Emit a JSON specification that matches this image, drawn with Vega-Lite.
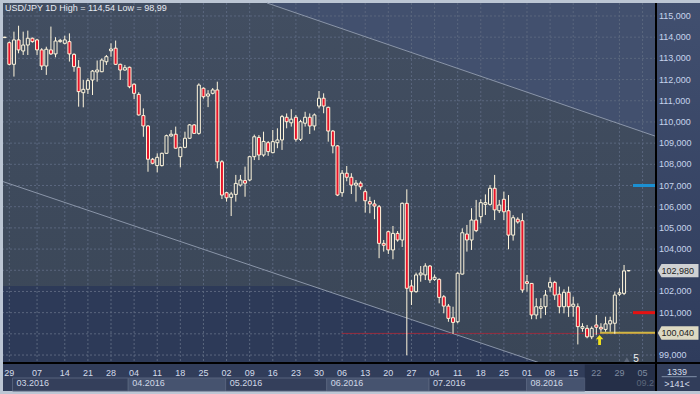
{
  "$schema": "https://vega.github.io/schema/vega-lite/v6.json",
  "width": 653,
  "height": 360,
  "autosize": {"type": "none"},
  "padding": {"left": 3, "top": 3, "right": 44, "bottom": 31},
  "background": "#bcc6d4",
  "config": {"view": {"stroke": null}, "font": "Liberation Sans", "axis": {"disable": true}},
  "datasets": {
    "candles": [
      {"k":0,"o":113.98,"h":114.02,"l":113.96,"c":114.0},
      {"k":1,"o":113.74,"h":113.8,"l":112.67,"c":112.72},
      {"k":2,"o":112.72,"h":114.26,"l":112.14,"c":113.87},
      {"k":3,"o":113.87,"h":114.54,"l":113.24,"c":113.4},
      {"k":4,"o":113.35,"h":114.26,"l":113.16,"c":113.63},
      {"k":5,"o":113.63,"h":114.31,"l":113.16,"c":113.95},
      {"k":6,"o":113.95,"h":113.98,"l":113.74,"c":113.79},
      {"k":7,"o":113.87,"h":113.92,"l":113.16,"c":113.4},
      {"k":8,"o":113.4,"h":113.48,"l":112.45,"c":112.64},
      {"k":9,"o":112.64,"h":113.55,"l":112.22,"c":113.43},
      {"k":10,"o":113.4,"h":114.5,"l":113.16,"c":113.21},
      {"k":11,"o":113.21,"h":114.0,"l":113.05,"c":113.82},
      {"k":12,"o":113.79,"h":113.92,"l":113.74,"c":113.85},
      {"k":13,"o":113.71,"h":114.07,"l":113.66,"c":113.87},
      {"k":14,"o":113.79,"h":114.18,"l":112.85,"c":113.21},
      {"k":15,"o":113.19,"h":113.24,"l":112.37,"c":112.61},
      {"k":16,"o":112.58,"h":112.92,"l":110.72,"c":111.43},
      {"k":17,"o":111.38,"h":111.98,"l":110.69,"c":111.54},
      {"k":18,"o":111.54,"h":112.06,"l":111.32,"c":111.95},
      {"k":19,"o":111.98,"h":112.45,"l":111.27,"c":112.4},
      {"k":20,"o":112.36,"h":112.9,"l":111.9,"c":112.45},
      {"k":21,"o":112.37,"h":113.0,"l":112.35,"c":112.92},
      {"k":22,"o":112.84,"h":113.16,"l":112.69,"c":113.08},
      {"k":23,"o":113.36,"h":113.71,"l":113.08,"c":113.44},
      {"k":24,"o":113.48,"h":113.84,"l":112.69,"c":112.72},
      {"k":25,"o":112.72,"h":112.75,"l":111.98,"c":112.45},
      {"k":26,"o":112.45,"h":112.69,"l":112.42,"c":112.56},
      {"k":27,"o":112.58,"h":112.61,"l":111.59,"c":111.66},
      {"k":28,"o":111.78,"h":111.82,"l":111.08,"c":111.35},
      {"k":29,"o":111.3,"h":111.4,"l":110.3,"c":110.33},
      {"k":30,"o":110.3,"h":110.64,"l":109.3,"c":109.81},
      {"k":31,"o":109.81,"h":109.85,"l":107.65,"c":108.24},
      {"k":32,"o":108.24,"h":108.3,"l":108.0,"c":108.05},
      {"k":33,"o":107.94,"h":108.52,"l":107.62,"c":108.33},
      {"k":34,"o":107.94,"h":108.55,"l":107.9,"c":108.52},
      {"k":35,"o":108.52,"h":109.4,"l":108.5,"c":109.35},
      {"k":36,"o":109.34,"h":109.62,"l":109.3,"c":109.42},
      {"k":37,"o":109.42,"h":109.78,"l":108.74,"c":108.76},
      {"k":38,"o":108.36,"h":108.83,"l":107.86,"c":108.8},
      {"k":39,"o":108.8,"h":109.54,"l":108.76,"c":109.23},
      {"k":40,"o":109.23,"h":109.9,"l":109.2,"c":109.86},
      {"k":41,"o":109.86,"h":109.9,"l":109.45,"c":109.46},
      {"k":42,"o":109.46,"h":111.82,"l":109.4,"c":111.74},
      {"k":43,"o":111.59,"h":111.63,"l":111.1,"c":111.19},
      {"k":44,"o":111.22,"h":111.5,"l":110.7,"c":111.32},
      {"k":45,"o":111.35,"h":111.6,"l":111.3,"c":111.51},
      {"k":46,"o":111.51,"h":111.9,"l":107.81,"c":108.12},
      {"k":47,"o":108.12,"h":108.2,"l":106.36,"c":106.55},
      {"k":48,"o":106.66,"h":106.7,"l":106.24,"c":106.42},
      {"k":49,"o":106.44,"h":106.7,"l":105.56,"c":106.6},
      {"k":50,"o":106.58,"h":107.5,"l":106.24,"c":107.1},
      {"k":51,"o":107.02,"h":107.5,"l":106.95,"c":107.26},
      {"k":52,"o":107.23,"h":107.89,"l":106.47,"c":107.11},
      {"k":53,"o":107.26,"h":108.4,"l":107.2,"c":108.36},
      {"k":54,"o":108.36,"h":109.4,"l":108.2,"c":109.3},
      {"k":55,"o":109.27,"h":109.38,"l":108.2,"c":108.44},
      {"k":56,"o":108.44,"h":109.54,"l":108.36,"c":109.08},
      {"k":57,"o":109.02,"h":109.1,"l":108.4,"c":108.6},
      {"k":58,"o":108.55,"h":109.62,"l":108.52,"c":109.07},
      {"k":59,"o":109.02,"h":109.7,"l":108.76,"c":109.15},
      {"k":60,"o":109.15,"h":110.33,"l":108.68,"c":110.25},
      {"k":61,"o":110.22,"h":110.4,"l":109.7,"c":110.01},
      {"k":62,"o":109.96,"h":110.6,"l":109.78,"c":110.13},
      {"k":63,"o":110.22,"h":110.33,"l":109.07,"c":109.18},
      {"k":64,"o":109.18,"h":110.1,"l":109.1,"c":110.01},
      {"k":65,"o":109.94,"h":110.48,"l":109.78,"c":110.22},
      {"k":66,"o":110.22,"h":110.4,"l":109.43,"c":109.81},
      {"k":67,"o":109.81,"h":110.4,"l":109.6,"c":110.33},
      {"k":68,"o":110.75,"h":111.46,"l":110.64,"c":111.12},
      {"k":69,"o":111.12,"h":111.35,"l":110.41,"c":110.75},
      {"k":70,"o":110.69,"h":110.72,"l":109.07,"c":109.57},
      {"k":71,"o":109.57,"h":109.62,"l":108.52,"c":108.87},
      {"k":72,"o":108.87,"h":108.9,"l":106.5,"c":106.55},
      {"k":73,"o":106.66,"h":107.73,"l":106.47,"c":107.58},
      {"k":74,"o":107.58,"h":107.92,"l":107.2,"c":107.39},
      {"k":75,"o":107.39,"h":107.58,"l":106.6,"c":107.02},
      {"k":76,"o":107.02,"h":107.26,"l":106.24,"c":107.11},
      {"k":77,"o":107.11,"h":107.2,"l":106.8,"c":106.94},
      {"k":78,"o":106.71,"h":106.82,"l":105.72,"c":106.28},
      {"k":79,"o":106.24,"h":106.47,"l":105.69,"c":106.13},
      {"k":80,"o":106.13,"h":106.32,"l":105.41,"c":106.03},
      {"k":81,"o":106.0,"h":106.08,"l":103.57,"c":104.27},
      {"k":82,"o":104.27,"h":104.43,"l":103.88,"c":104.18},
      {"k":83,"o":104.82,"h":104.87,"l":103.77,"c":103.96},
      {"k":84,"o":103.96,"h":105.09,"l":103.52,"c":104.74},
      {"k":85,"o":104.74,"h":104.85,"l":104.35,"c":104.43},
      {"k":86,"o":104.43,"h":106.2,"l":104.1,"c":106.16},
      {"k":87,"o":106.16,"h":106.82,"l":98.99,"c":102.15},
      {"k":88,"o":102.26,"h":102.54,"l":101.36,"c":101.99},
      {"k":89,"o":101.99,"h":102.89,"l":101.94,"c":102.78},
      {"k":90,"o":102.78,"h":103.2,"l":102.46,"c":102.87},
      {"k":91,"o":102.78,"h":103.33,"l":102.54,"c":103.2},
      {"k":92,"o":103.2,"h":103.25,"l":102.4,"c":102.54},
      {"k":93,"o":102.57,"h":102.8,"l":102.5,"c":102.67},
      {"k":94,"o":102.57,"h":102.62,"l":101.44,"c":101.72},
      {"k":95,"o":101.75,"h":101.83,"l":100.97,"c":101.31},
      {"k":96,"o":101.31,"h":101.41,"l":100.57,"c":100.73},
      {"k":97,"o":100.76,"h":101.28,"l":99.99,"c":100.54},
      {"k":98,"o":100.57,"h":102.9,"l":100.5,"c":102.86},
      {"k":99,"o":102.82,"h":104.98,"l":102.8,"c":104.77},
      {"k":100,"o":104.71,"h":105.14,"l":103.88,"c":104.43},
      {"k":101,"o":104.43,"h":105.93,"l":103.96,"c":105.37},
      {"k":102,"o":105.37,"h":106.32,"l":104.8,"c":104.87},
      {"k":103,"o":105.53,"h":106.35,"l":105.22,"c":106.19},
      {"k":104,"o":106.11,"h":106.58,"l":105.61,"c":106.19},
      {"k":105,"o":106.11,"h":107.02,"l":106.05,"c":106.87},
      {"k":106,"o":106.87,"h":107.5,"l":105.37,"c":105.85},
      {"k":107,"o":105.81,"h":106.32,"l":105.7,"c":106.08},
      {"k":108,"o":106.35,"h":106.71,"l":105.37,"c":105.76},
      {"k":109,"o":105.81,"h":106.55,"l":103.99,"c":104.66},
      {"k":110,"o":104.66,"h":105.6,"l":104.4,"c":105.48},
      {"k":111,"o":105.41,"h":105.5,"l":105.2,"c":105.28},
      {"k":112,"o":105.34,"h":105.69,"l":101.94,"c":102.07},
      {"k":113,"o":102.46,"h":102.78,"l":101.99,"c":102.38},
      {"k":114,"o":102.38,"h":102.4,"l":100.69,"c":100.89},
      {"k":115,"o":100.89,"h":101.68,"l":100.69,"c":101.28},
      {"k":116,"o":101.2,"h":101.68,"l":100.73,"c":101.28},
      {"k":117,"o":101.28,"h":102.07,"l":100.89,"c":101.83},
      {"k":118,"o":102.2,"h":102.67,"l":101.99,"c":102.43},
      {"k":119,"o":102.43,"h":102.5,"l":101.6,"c":101.83},
      {"k":120,"o":101.87,"h":102.23,"l":100.97,"c":101.28},
      {"k":121,"o":101.28,"h":102.1,"l":100.97,"c":101.96},
      {"k":122,"o":101.96,"h":102.23,"l":100.8,"c":101.28},
      {"k":123,"o":101.3,"h":101.75,"l":100.81,"c":101.4},
      {"k":124,"o":101.28,"h":101.44,"l":99.5,"c":100.34},
      {"k":125,"o":100.26,"h":100.5,"l":100.1,"c":100.34},
      {"k":126,"o":100.26,"h":100.42,"l":99.79,"c":99.86},
      {"k":127,"o":99.86,"h":100.35,"l":99.75,"c":100.26},
      {"k":128,"o":100.42,"h":100.89,"l":99.95,"c":100.31},
      {"k":129,"o":100.31,"h":100.5,"l":100.1,"c":100.23},
      {"k":130,"o":100.21,"h":100.81,"l":100.1,"c":100.47},
      {"k":131,"o":100.47,"h":100.81,"l":100.1,"c":100.62},
      {"k":132,"o":100.5,"h":101.99,"l":100.0,"c":101.83},
      {"k":133,"o":101.87,"h":102.15,"l":101.79,"c":101.94},
      {"k":134,"o":101.91,"h":103.25,"l":101.83,"c":102.97},
      {"k":135,"o":102.98,"h":103.0,"l":102.95,"c":102.98}
    ],
    "weeks": [{"k":1,"d":"29"},{"k":7,"d":"07"},{"k":13,"d":"14"},{"k":18,"d":"21"},{"k":23,"d":"28"},{"k":28,"d":"04"},{"k":33,"d":"11"},{"k":38,"d":"18"},{"k":43,"d":"25"},{"k":48,"d":"02"},{"k":53,"d":"09"},{"k":58,"d":"16"},{"k":63,"d":"23"},{"k":68,"d":"30"},{"k":73,"d":"06"},{"k":78,"d":"13"},{"k":83,"d":"20"},{"k":88,"d":"27"},{"k":93,"d":"04"},{"k":98,"d":"11"},{"k":103,"d":"18"},{"k":108,"d":"25"},{"k":113,"d":"01"},{"k":118,"d":"08"},{"k":123,"d":"15"},{"k":128,"d":"22"},{"k":133,"d":"29"},{"k":138,"d":"05"}],
    "levels": [{"p":99},{"p":100},{"p":101},{"p":102},{"p":103},{"p":104},{"p":105},{"p":106},{"p":107},{"p":108},{"p":109},{"p":110},{"p":111},{"p":112},{"p":113},{"p":114},{"p":115}],
    "pricelabels": [{"p":99,"t":"99,000"},{"p":101,"t":"101,000"},{"p":102,"t":"102,000"},{"p":104,"t":"104,000"},{"p":105,"t":"105,000"},{"p":106,"t":"106,000"},{"p":107,"t":"107,000"},{"p":108,"t":"108,000"},{"p":109,"t":"109,000"},{"p":110,"t":"110,000"},{"p":111,"t":"111,000"},{"p":112,"t":"112,000"},{"p":113,"t":"113,000"},{"p":114,"t":"114,000"},{"p":115,"t":"115,000"}],
    "channel": [{"k":-0.368,"top":115.613,"bot":102.258},{"k":56.75,"top":115.613,"bot":102.258},{"k":66.45,"top":114.888,"bot":102.258},{"k":115.82,"top":111.194,"bot":98.624},{"k":140.91,"top":109.318,"bot":98.624}],
    "above": [{"k":56.75,"top":115.613,"bot":115.613},{"k":140.91,"top":115.613,"bot":109.318}],
    "lower": [{"k":-0.368,"top":102.258},{"k":66.45,"top":102.258},{"k":115.82,"top":98.624}],
    "lines": [{"k1":56.75,"p1":115.613,"k2":140.91,"p2":109.318},{"k1":-0.368,"p1":107.185,"k2":115.82,"p2":98.624}],
    "months": [{"m":"03.2016","n":3,"k1":1.7,"k2":26.73},{"m":"04.2016","n":4,"k1":26.73,"k2":47.8},{"m":"05.2016","n":5,"k1":47.8,"k2":69.67},{"m":"06.2016","n":6,"k1":69.67,"k2":91.8},{"m":"07.2016","n":7,"k1":91.8,"k2":112.9},{"m":"08.2016","n":8,"k1":112.9,"k2":125.5}],
    "nextmonth": [{"m":"09.2016","n":9,"k1":135.8,"k2":140.91}]
  },
  "layer": [
    {"data": {"values": [{}]}, "mark": {"type": "rect", "color": "#313d5a"},
     "encoding": {"x": {"datum": -0.368, "type": "quantitative", "scale": {"domain": [-0.368, 140.91], "nice": false, "zero": false, "padding": 0}}, "x2": {"datum": 152},
                  "y": {"datum": 115.613, "type": "quantitative", "scale": {"domain": [98.624, 115.613], "nice": false, "zero": false, "padding": 0}}, "y2": {"datum": 97.303}}},
    {"data": {"values": [{}]}, "mark": {"type": "rect", "color": {"gradient": "linear", "x1": 0, "y1": 0, "x2": 0, "y2": 1, "stops": [{"offset": 0, "color": "#414f6f"}, {"offset": 1, "color": "#2f3c5c"}]}},
     "encoding": {"x": {"datum": 140.91, "type": "quantitative"}, "x2": {"datum": 152}, "y": {"datum": 115.613, "type": "quantitative"}, "y2": {"datum": 98.624}}},
    {"data": {"name": "channel"}, "mark": {"type": "area", "color": {"gradient": "linear", "x1": 0, "y1": 0, "x2": 0, "y2": 1, "stops": [{"offset": 0, "color": "#424e61"}, {"offset": 1, "color": "#3a4657"}]}},
     "encoding": {"x": {"field": "k", "type": "quantitative"}, "y": {"field": "top", "type": "quantitative"}, "y2": {"field": "bot"}}},
    {"data": {"name": "above"}, "mark": {"type": "area", "color": "#42506e"},
     "encoding": {"x": {"field": "k", "type": "quantitative"}, "y": {"field": "top", "type": "quantitative"}, "y2": {"field": "bot"}}},
    {"data": {"name": "lower"}, "mark": {"type": "area", "color": "#2d3a58"},
     "encoding": {"x": {"field": "k", "type": "quantitative"}, "y": {"field": "top", "type": "quantitative"}, "y2": {"datum": 98.624}}},
    {"data": {"name": "levels"}, "mark": {"type": "rule", "color": "#5a667e", "strokeDash": [2, 2], "strokeWidth": 1},
     "encoding": {"y": {"field": "p", "type": "quantitative"}}},
    {"data": {"name": "weeks"}, "mark": {"type": "rule", "color": "#5a667e", "strokeDash": [2, 2], "strokeWidth": 1},
     "encoding": {"x": {"field": "k", "type": "quantitative"}}},
    {"data": {"name": "lines"}, "mark": {"type": "rule", "color": "#8a95a8", "strokeWidth": 1},
     "encoding": {"x": {"field": "k1", "type": "quantitative"}, "y": {"field": "p1", "type": "quantitative"}, "x2": {"field": "k2"}, "y2": {"field": "p2"}}},
    {"data": {"values": [{}]}, "mark": {"type": "rule", "color": "#962c3e", "strokeWidth": 1},
     "encoding": {"x": {"datum": 72.9, "type": "quantitative"}, "x2": {"datum": 140.91}, "y": {"datum": 100.02, "type": "quantitative"}}},
    {"data": {"values": [{}]}, "mark": {"type": "rule", "color": "#cdb845", "strokeWidth": 2},
     "encoding": {"x": {"datum": 128.8, "type": "quantitative"}, "x2": {"datum": 140.91}, "y": {"datum": 100.05, "type": "quantitative"}}},
    {"data": {"values": [{}]}, "mark": {"type": "rule", "color": "#1b8fd2", "strokeWidth": 3},
     "encoding": {"x": {"datum": 135.93, "type": "quantitative"}, "x2": {"datum": 140.91}, "y": {"datum": 107.0, "type": "quantitative"}}},
    {"data": {"values": [{}]}, "mark": {"type": "rule", "color": "#e51212", "strokeWidth": 3},
     "encoding": {"x": {"datum": 135.93, "type": "quantitative"}, "x2": {"datum": 140.91}, "y": {"datum": 101.0, "type": "quantitative"}}},
    {"data": {"name": "candles"}, "mark": {"type": "rule", "color": "#fff6dc", "strokeWidth": 1},
     "encoding": {"x": {"field": "k", "type": "quantitative"}, "y": {"field": "h", "type": "quantitative"}, "y2": {"field": "l"}}},
    {"data": {"name": "candles"}, "mark": {"type": "bar", "width": 3, "stroke": "#fff6dc", "strokeWidth": 1},
     "encoding": {
       "x": {"field": "k", "type": "quantitative"},
       "y": {"field": "o", "type": "quantitative"},
       "y2": {"field": "c"},
       "fill": {"condition": {"test": "datum.c < datum.o", "value": "#e8142a"}, "value": "#3d4a5c"}
     }},
    {"data": {"values": [{}]}, "mark": {"type": "point", "shape": "M0,-1L0.75,-0.15L0.28,-0.15L0.28,1L-0.28,1L-0.28,-0.15L-0.75,-0.15Z", "size": 100, "filled": true, "color": "#f2e21c", "opacity": 1},
     "encoding": {"x": {"datum": 128.7, "type": "quantitative"}, "y": {"datum": 99.71, "type": "quantitative"}}},
    {"data": {"values": [{}]}, "mark": {"type": "point", "shape": "triangle-up", "size": 40, "filled": true, "color": "#5c6679", "opacity": 1},
     "encoding": {"x": {"datum": 134.6, "type": "quantitative"}, "y": {"datum": 98.77, "type": "quantitative"}}},
    {"data": {"values": [{"t": "5"}]}, "mark": {"type": "text", "fontSize": 10, "color": "#f0f0f0", "align": "center", "baseline": "middle"},
     "encoding": {"x": {"datum": 136.6, "type": "quantitative"}, "y": {"datum": 98.79, "type": "quantitative"}, "text": {"field": "t"}}},
    {"data": {"name": "months"}, "mark": {"type": "rect", "stroke": "#56627c", "strokeWidth": 1},
     "encoding": {"x": {"field": "k1", "type": "quantitative"}, "x2": {"field": "k2"}, "y": {"datum": 97.916, "type": "quantitative"}, "y2": {"datum": 97.303},
                  "fill": {"condition": {"test": "datum.n % 2 == 0", "value": "#46536f"}, "value": "#343f5b"}}},
    {"data": {"name": "months"}, "mark": {"type": "text", "fontSize": 9, "align": "left", "baseline": "middle", "dx": 4, "color": "#d0d8e6"},
     "encoding": {"x": {"field": "k1", "type": "quantitative"}, "y": {"datum": 97.66, "type": "quantitative"}, "text": {"field": "m"}}},
    {"data": {"name": "nextmonth"}, "mark": {"type": "text", "fontSize": 9, "align": "left", "baseline": "middle", "dx": 4, "color": "#7f8ba0", "limit": 19, "ellipsis": "\u200b"},
     "encoding": {"x": {"field": "k1", "type": "quantitative"}, "y": {"datum": 97.66, "type": "quantitative"}, "text": {"field": "m"}}},
    {"data": {"values": [{}]}, "mark": {"type": "rect", "color": "#0a1222", "opacity": 0.3},
     "encoding": {"x": {"datum": 125.5, "type": "quantitative"}, "x2": {"datum": 140.91}, "y": {"datum": 98.55, "type": "quantitative"}, "y2": {"datum": 97.303}}},
    {"data": {"values": [{}]}, "mark": {"type": "rule", "color": "#000000", "strokeWidth": 2},
     "encoding": {"x": {"datum": -0.368, "type": "quantitative"}, "x2": {"datum": 152}, "y": {"datum": 98.624, "type": "quantitative"}}},
    {"data": {"values": [{}]}, "mark": {"type": "rule", "color": "#000000", "strokeWidth": 2},
     "encoding": {"x": {"datum": 140.91, "type": "quantitative"}, "y": {"datum": 115.613, "type": "quantitative"}, "y2": {"datum": 97.303}}},
    {"data": {"name": "weeks"}, "mark": {"type": "text", "fontSize": 9, "align": "center", "baseline": "middle"},
     "encoding": {"x": {"field": "k", "type": "quantitative"}, "y": {"datum": 98.167, "type": "quantitative"}, "text": {"field": "d"},
                  "color": {"condition": {"test": "datum.k >= 128", "value": "#7f8ba0"}, "value": "#d4dcea"}}},
    {"data": {"name": "pricelabels"}, "mark": {"type": "text", "fontSize": 9, "align": "left", "baseline": "middle", "color": "#c6d4ec"},
     "encoding": {"x": {"datum": 141.56, "type": "quantitative"}, "y": {"field": "p", "type": "quantitative"}, "text": {"field": "t"}}},
    {"data": {"values": [{}]}, "mark": {"type": "rule", "color": "#8090a8", "strokeWidth": 1},
     "encoding": {"x": {"datum": 142.14, "type": "quantitative"}, "x2": {"datum": 149.72}, "y": {"datum": 97.978, "type": "quantitative"}}},
    {"data": {"values": [{"t": "1339", "p": 98.222}, {"t": ">141<", "p": 97.646}]}, "mark": {"type": "text", "fontSize": 9, "color": "#d4dcea", "align": "center", "baseline": "middle"},
     "encoding": {"x": {"datum": 145.45, "type": "quantitative"}, "y": {"field": "p", "type": "quantitative"}, "text": {"field": "t"}}},
    {"data": {"values": [{"p": 102.98}]}, "mark": {"type": "point", "shape": "M-1.2,0L-1,-0.36L1,-0.36L1,0.36L-1,0.36Z", "size": 1369, "filled": true, "color": "#cfd1d3", "opacity": 1},
     "encoding": {"x": {"datum": 146.1, "type": "quantitative"}, "y": {"field": "p", "type": "quantitative"}}},
    {"data": {"values": [{"p": 100.04}]}, "mark": {"type": "point", "shape": "M-1.2,0L-1,-0.36L1,-0.36L1,0.36L-1,0.36Z", "size": 1369, "filled": true, "color": "#ddd9c3", "opacity": 1},
     "encoding": {"x": {"datum": 146.1, "type": "quantitative"}, "y": {"field": "p", "type": "quantitative"}}},
    {"data": {"values": [{"t": "102,980", "p": 102.98}, {"t": "100,040", "p": 100.04}]}, "mark": {"type": "text", "fontSize": 9, "color": "#222222", "align": "center", "baseline": "middle"},
     "encoding": {"x": {"datum": 145.63, "type": "quantitative"}, "y": {"field": "p", "type": "quantitative"}, "text": {"field": "t"}}},
    {"data": {"values": [{"t": "USD/JPY 1D High = 114,54 Low = 98,99"}]}, "mark": {"type": "text", "fontSize": 9, "color": "#e6eaf2", "align": "left", "baseline": "alphabetic"},
     "encoding": {"x": {"datum": 0.065, "type": "quantitative"}, "y": {"datum": 115.22, "type": "quantitative"}, "text": {"field": "t"}}}
  ]
}
